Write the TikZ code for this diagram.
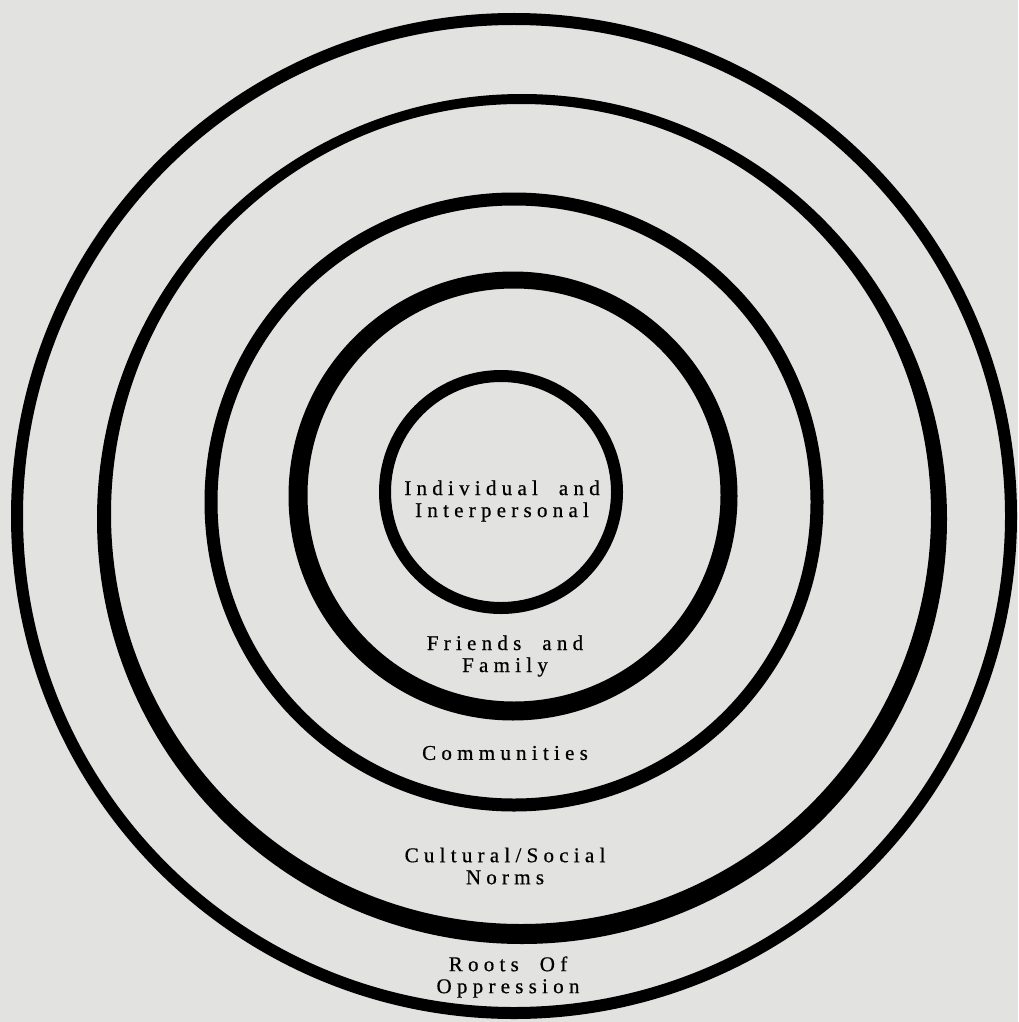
\documentclass[tikz,border=0pt]{standalone}
\usepackage{fontspec}
\setmainfont{Liberation Serif}
\newfontfamily\ringfont[LetterSpace=25, WordSpace=2, FakeBold=0.6]{Liberation Serif}
\usepackage{tikz}
\definecolor{paper}{HTML}{E2E2E0}

\begin{document}
\begin{tikzpicture}[x=1pt, y=-1pt,
		band/.style={fill=black, even odd rule},
		every node/.style={font=\ringfont\fontsize{21}{22}\selectfont, align=center, inner sep=0pt}]
	\path[use as bounding box, fill=paper] (0,0) rectangle (1018,1022);
	% rings, outside in
	\draw[line width=12pt] (514,516) circle [radius=497pt];
	\path[band] (522,519) circle [radius=425pt] (521,514) circle [radius=410pt];
	\draw[line width=13pt] (514,502) circle [radius=303pt];
	\path[band] (513,496) circle [radius=224.5pt] (514,495) circle [radius=206.5pt];
	\draw[line width=12pt] (501,492) circle [radius=116pt];
	% labels
	\node (indiv) at (502,501) {Individual and\\Interpersonal};
	\node (friends) at (505,656) {Friends and\\Family};
	\node (comm) at (505,753) {Communities};
	\node (norms) at (505,866) {Cultural/Social\\Norms};
	\node (roots) at (508,977) {Roots Of\\Oppression};
\end{tikzpicture}
\end{document}
